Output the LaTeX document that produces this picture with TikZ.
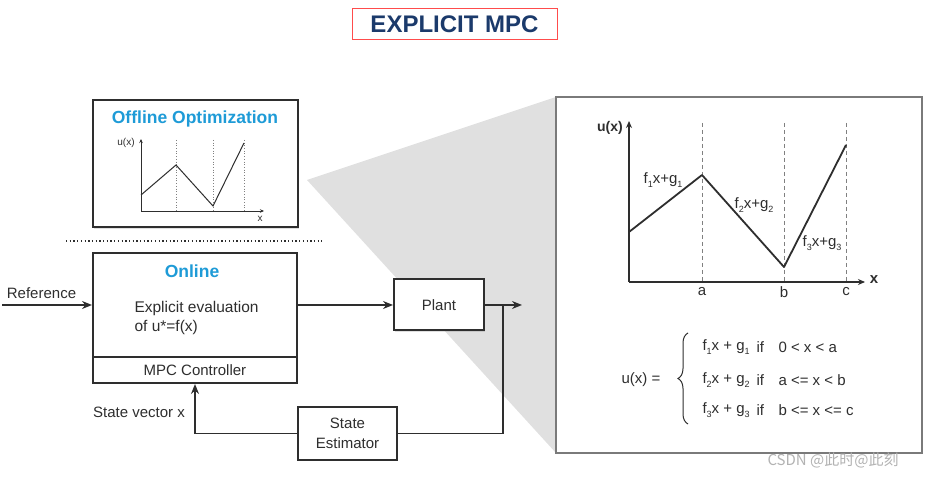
\documentclass[tikz,border=0pt]{standalone}
\usepackage{fontspec}
\setmainfont{Liberation Sans}
\newfontfamily\cjk{Noto Sans CJK SC}
\usetikzlibrary{arrows.meta,shadows,decorations.pathreplacing}
\definecolor{mpcblue}{HTML}{1B3A6B}
\definecolor{offcyan}{HTML}{1E9BD7}
\definecolor{txt}{HTML}{2E2E2E}
\definecolor{zoomgray}{HTML}{E0E0E0}
\definecolor{panelgray}{HTML}{7A7A7A}
\newcommand{\lowsub}[1]{\raisebox{-0.45ex}{\fontsize{9}{9}\selectfont #1}}

\begin{document}
\begin{tikzpicture}[x=1pt,y=-1pt,every node/.style={font=\fontsize{15}{19}\selectfont,text=txt},
        blk/.style={draw=txt,line width=2pt,fill=white,inner sep=0,
            drop shadow={shadow xshift=1.2pt,shadow yshift=-1.2pt,opacity=0.25}},
        hd/.style={font=\fontsize{17.5}{20}\bfseries\selectfont,text=offcyan},
        arr/.style={line width=1.5pt,draw=txt,-{Stealth[length=10pt,width=8pt]}},
        ln/.style={line width=1.5pt,draw=txt},
        ax/.style={line width=1.2pt,draw=txt,-{Stealth[length=7pt,width=6pt]}}]
    \useasboundingbox (0,0) rectangle (930,478);
    % title
    \node[draw=red!70,line width=1pt,minimum width=205pt,minimum height=31pt,
        font=\fontsize{24}{26}\bfseries\selectfont,text=mpcblue] (title) at (454.5,24.5) {EXPLICIT MPC};
    % zoom shade
    \fill[zoomgray] (307,180) -- (556,97) -- (556,453) -- cycle;
    % offline part
    \node[blk,minimum width=205pt,minimum height=127pt] (offline) at (195.5,164) {};
    \node[hd] (offt) at (195,119) {Offline Optimization};
    \draw[ax,line width=0.8pt,-{Stealth[length=4pt,width=3.5pt]}] (141,211) -- (141,139);
    \draw[ax,line width=0.8pt,-{Stealth[length=4pt,width=3.5pt]}] (141,211) -- (264,211);
    \foreach \x in {176,213,244}
        \draw[dotted,line width=0.7pt,gray] (\x,140) -- (\x,211);
    \draw[line width=1pt,txt] (141,195) -- (176,165) -- (213,206) -- (244,143);
    \node[font=\fontsize{10}{11}\selectfont] (ux1) at (126,143) {u(x)};
    \node[font=\fontsize{10}{11}\selectfont] (x1) at (260,219) {x};
    \draw[line width=1.3pt,dash pattern=on 1.3pt off 2.4pt,txt] (66,241) -- (322,241);
    % online part
    \node[blk,minimum width=204pt,minimum height=104pt] (online) at (195,305) {};
    \node[blk,minimum width=204pt,minimum height=26pt] (mpc) at (195,370) {MPC Controller};
    \node[hd] (onl) at (192,271) {Online};
    \node[anchor=west,align=left,font=\fontsize{15.5}{19}\selectfont] (evalt) at (131,317.5) {Explicit evaluation\\of u*=f(x)};
    \node[blk,minimum width=90pt,minimum height=51pt] (plant) at (439,305) {Plant};
    \node[blk,minimum width=99pt,minimum height=53pt,align=center,font=\fontsize{15}{20}\selectfont] (est) at (347.5,433.5) {State\\Estimator};
    \node (reflab) at (41.5,293) {Reference};
    \node (svlab) at (139,412) {State vector x};
    \coordinate (refin) at (2,305);
    \coordinate (yout) at (522,305);
    \coordinate (br) at (503,305);
    \draw[arr] (refin) -- (online.west);
    \draw[arr] (online.east) -- (plant.west);
    \draw[arr] (plant.east) -- (yout);
    \draw[ln] (br) |- (est.east);
    \draw[arr] (est.west) -| (mpc.south);
    % zoomed panel
    \node[blk,draw=panelgray,line width=1.5pt,minimum width=366pt,minimum height=356pt] (panel) at (739,275) {};
    \foreach \x/\l in {702/a,784/b,846/c}{
        \draw[dashed,dash pattern=on 4pt off 3pt,line width=0.7pt,gray] (\x,123) -- (\x,282);
        \node (lab\l) at (\x,292) {\l};
    }
    \draw[ax] (629,282) -- (629,121);
    \draw[ax] (629,282) -- (865,282);
    \draw[line width=1.8pt,txt,line join=round] (629,232) -- (702,175) -- (784,267) -- (846,145);
    \node[font=\fontsize{14}{16}\bfseries\selectfont] (ux2) at (610,128) {u(x)};
    \node[font=\fontsize{15}{16}\bfseries\selectfont] (x2) at (874,280) {x};
    \node (s1) at (663,180) {f\lowsub{1}x+g\lowsub{1}};
    \node (s2) at (754,205) {f\lowsub{2}x+g\lowsub{2}};
    \node (s3) at (822,243) {f\lowsub{3}x+g\lowsub{3}};
    % piecewise law
    \node (ueq) at (641,380) {u(x) =};
    \draw[line width=1pt,txt,decorate,decoration={brace,amplitude=10pt}] (688,424) -- (688,333);
    \foreach \i/\yy/\cnd in {1/347/{0 < x < a},2/380/{a <= x < b},3/410/{b <= x <= c}}{
        \node[anchor=west] (fg\i) at (699,\yy) {f\lowsub{\i}x + g\lowsub{\i}};
        \node[anchor=west] (if\i) at (753,\yy) {if};
        \node[anchor=west] (cnd\i) at (775,\yy) {\cnd};
    }
    \node[font=\cjk\fontsize{15}{16}\selectfont,text=gray!60] (wm) at (833,460) {CSDN @此时@此刻};
\end{tikzpicture}
\end{document}
